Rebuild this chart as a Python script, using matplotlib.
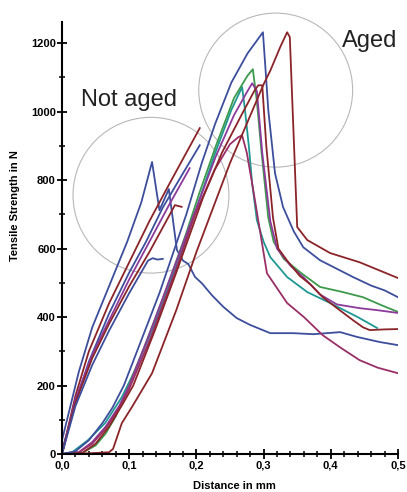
import matplotlib
matplotlib.use("Agg")
import matplotlib.pyplot as plt
from matplotlib.patches import Ellipse
from matplotlib.ticker import MultipleLocator, FuncFormatter

plt.rcParams['font.family'] = ['Liberation Sans', 'DejaVu Sans']

BLUE = '#3d4e9c'
BROWN = '#8a2428'
GREEN = '#3d9a4c'
TEAL = '#1f9894'
PURPLE = '#8c3a9c'
MAGENTA = '#9a2e66'

# --- not aged specimens (distance in mm, force in N)
na1_x = [0, 0.01, 0.025, 0.045, 0.07, 0.097, 0.118, 0.134, 0.145, 0.159, 0.171, 0.18, 0.188,
         0.198, 0.208, 0.223, 0.24, 0.26, 0.28, 0.31, 0.344, 0.374, 0.414, 0.439, 0.473, 0.5]
na1_y = [40, 120, 240, 370, 490, 620, 735, 853, 712, 774, 596, 565, 555,
         517, 499, 464, 430, 397, 377, 353, 353, 350, 356, 342, 327, 318]
na2_x = [0, 0.02, 0.04, 0.07, 0.1, 0.125, 0.15, 0.18, 0.205]
na2_y = [10, 150, 270, 410, 530, 620, 720, 820, 902]
na3_x = [0, 0.02, 0.04, 0.07, 0.1, 0.13, 0.16, 0.185, 0.205]
na3_y = [0, 170, 300, 440, 560, 680, 790, 880, 952]
na4_x = [0, 0.02, 0.045, 0.07, 0.1, 0.13, 0.16, 0.19]
na4_y = [0, 160, 290, 390, 510, 620, 730, 835]
na5_x = [0, 0.02, 0.045, 0.07, 0.1, 0.13, 0.155, 0.168, 0.178]
na5_y = [0, 150, 280, 380, 490, 590, 680, 727, 722]
na6_x = [0, 0.02, 0.045, 0.07, 0.1, 0.128, 0.135, 0.142, 0.15]
na6_y = [0, 140, 260, 360, 470, 565, 572, 568, 570]

# --- aged specimens
ag_blue_x = [0, 0.02, 0.04, 0.06, 0.075, 0.092, 0.145, 0.185, 0.208, 0.228, 0.252, 0.276, 0.299,
             0.303, 0.307, 0.317, 0.329, 0.345, 0.359, 0.384, 0.41, 0.433, 0.46, 0.48, 0.5]
ag_blue_y = [0, 8, 40, 90, 135, 200, 470, 700, 850, 965, 1085, 1170, 1232,
             1120, 1004, 820, 721, 650, 604, 566, 540, 517, 492, 478, 458]
ag_teal_x = [0, 0.015, 0.039, 0.064, 0.089, 0.11, 0.142, 0.174, 0.204, 0.228, 0.252, 0.268,
             0.272, 0.278, 0.283, 0.29, 0.3, 0.31, 0.335, 0.365, 0.399, 0.44, 0.469]
ag_teal_y = [0, 5, 41, 90, 166, 250, 400, 570, 740, 880, 1005, 1072,
             1010, 900, 790, 683, 620, 575, 517, 473, 441, 400, 368]
ag_green_x = [0, 0.03, 0.05, 0.065, 0.08, 0.095, 0.122, 0.153, 0.184, 0.204, 0.229, 0.256, 0.276, 0.284,
              0.29, 0.297, 0.307, 0.315, 0.33, 0.355, 0.384, 0.418, 0.448, 0.475, 0.5]
ag_green_y = [0, 3, 25, 60, 110, 180, 310, 470, 640, 760, 900, 1040, 1105, 1124,
              1030, 880, 690, 620, 570, 530, 488, 473, 458, 435, 415]
ag_purple_x = [0, 0.025, 0.045, 0.065, 0.085, 0.1, 0.132, 0.164, 0.204, 0.229, 0.256, 0.276, 0.283,
               0.29, 0.298, 0.31, 0.32, 0.34, 0.36, 0.384, 0.409, 0.443, 0.47, 0.5]
ag_purple_y = [0, 5, 35, 80, 140, 200, 360, 530, 740, 870, 990, 1060, 1083,
               1060, 880, 680, 600, 550, 515, 466, 437, 426, 420, 412]
ag_brown2_x = [0, 0.03, 0.05, 0.07, 0.09, 0.106, 0.138, 0.17, 0.21, 0.238, 0.267, 0.286, 0.292, 0.298,
               0.304, 0.314, 0.322, 0.335, 0.354, 0.37, 0.388, 0.41, 0.433, 0.448, 0.458, 0.48, 0.5]
ag_brown2_y = [0, 3, 30, 80, 145, 200, 360, 530, 750, 880, 990, 1060, 1077, 1077,
               900, 690, 600, 565, 520, 495, 458, 425, 391, 370, 362, 364, 365]
ag_magenta_x = [0, 0.025, 0.045, 0.065, 0.085, 0.1, 0.132, 0.168, 0.198, 0.227, 0.25, 0.262, 0.268,
                0.275, 0.283, 0.292, 0.305, 0.335, 0.36, 0.388, 0.415, 0.443, 0.47, 0.5]
ag_magenta_y = [0, 5, 30, 75, 135, 190, 340, 530, 700, 830, 905, 925, 931,
                880, 790, 683, 528, 441, 400, 347, 310, 274, 252, 236]
ag_brown1_x = [0, 0.04, 0.07, 0.076, 0.089, 0.104, 0.134, 0.17, 0.2, 0.225, 0.25, 0.275, 0.3, 0.31, 0.325, 0.335,
               0.339, 0.35, 0.365, 0.399, 0.443, 0.5]
ag_brown1_y = [0, 2, 5, 15, 90, 137, 236, 420, 590, 720, 850, 965, 1080, 1120, 1190, 1232,
               1218, 663, 625, 587, 560, 514]

curves = [
    (na1_x, na1_y, BLUE), (na2_x, na2_y, BLUE), (na3_x, na3_y, BROWN),
    (na4_x, na4_y, PURPLE), (na5_x, na5_y, BROWN), (na6_x, na6_y, BLUE),
    (ag_teal_x, ag_teal_y, TEAL), (ag_green_x, ag_green_y, GREEN),
    (ag_purple_x, ag_purple_y, PURPLE), (ag_magenta_x, ag_magenta_y, MAGENTA),
    (ag_brown2_x, ag_brown2_y, BROWN), (ag_blue_x, ag_blue_y, BLUE),
    (ag_brown1_x, ag_brown1_y, BROWN),
]

fig = plt.figure(figsize=(4.07, 4.92), dpi=100)
ax = fig.add_axes([62 / 407, 38 / 492, 336 / 407, 432 / 492])

for xs, ys, c in curves:
    ax.plot(xs, ys, color=c, lw=1.3, solid_joinstyle='round')

# circles marking the two groups
ax.add_patch(Ellipse((0.1324, 756), 0.232, 455, fill=False, ec='#b8b8b8', lw=0.8, clip_on=False))
ax.add_patch(Ellipse((0.318, 1063), 0.229, 450, fill=False, ec='#b8b8b8', lw=0.8, clip_on=False))

ax.text(0.028, 1016, 'Not aged', fontsize=17, color='#222222', va='baseline')
ax.text(0.417, 1188, 'Aged', fontsize=17, color='#222222', va='baseline')

ax.set_xlim(0, 0.5)
ax.set_ylim(0, 1262)
for s in ['top', 'right']:
    ax.spines[s].set_visible(False)
for s in ['left', 'bottom']:
    ax.spines[s].set_linewidth(1.5)

ax.xaxis.set_major_locator(MultipleLocator(0.1))
ax.xaxis.set_minor_locator(MultipleLocator(0.02))
ax.yaxis.set_major_locator(MultipleLocator(200))
ax.yaxis.set_minor_locator(MultipleLocator(100))
ax.xaxis.set_major_formatter(FuncFormatter(lambda v, p: f"{v:.1f}".replace('.', ',')))
ax.tick_params(which='major', direction='inout', length=7, width=1.3, labelsize=8, pad=1)
ax.tick_params(which='minor', direction='inout', length=5, width=1.1)
for lab in ax.get_xticklabels() + ax.get_yticklabels():
    lab.set_fontweight('bold')

ax.set_ylabel('Tensile Strength in N', fontsize=8, fontweight='bold')
ax.yaxis.set_label_coords(-0.125, 0.576)
ax.set_xlabel('Distance in mm', fontsize=8, fontweight='bold')
ax.xaxis.set_label_coords(0.512, -0.0625)

fig.savefig('out.png', dpi=100)
